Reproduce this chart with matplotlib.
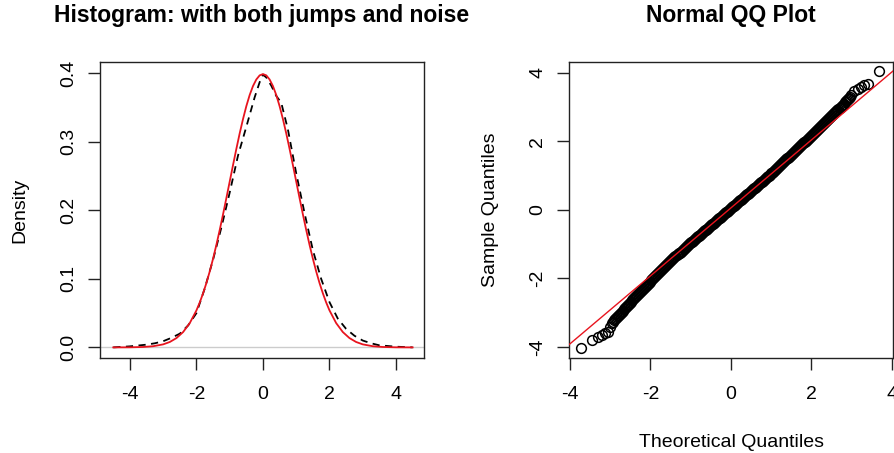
import matplotlib
matplotlib.use("Agg")
import matplotlib.pyplot as plt

plt.rcParams['font.family'] = ['Liberation Sans', 'DejaVu Sans']
plt.rcParams['axes.unicode_minus'] = False

# left panel: kernel density (dashed) and fitted normal (red)
dens_x = [-4.5, -4.0, -3.5, -3.25, -3.0, -2.75, -2.5, -2.25, -2.0, -1.75,
          -1.5, -1.25, -1.0, -0.75, -0.5, -0.25, -0.1, 0.0, 0.1, 0.25,
          0.4, 0.55, 0.75, 1.0, 1.25, 1.5, 1.75, 2.0, 2.25, 2.5,
          2.75, 3.0, 3.25, 3.5, 4.0, 4.5]
dens_y = [0.000, 0.0015, 0.004, 0.006, 0.009, 0.014, 0.020, 0.032, 0.050, 0.086,
          0.128, 0.175, 0.226, 0.280, 0.322, 0.365, 0.387, 0.398, 0.394, 0.382,
          0.367, 0.357, 0.318, 0.254, 0.196, 0.142, 0.100, 0.066, 0.042, 0.027,
          0.017, 0.010, 0.006, 0.003, 0.001, 0.000]

norm_x = [-4.5, -4.0, -3.6, -3.3, -3.0, -2.8, -2.6, -2.4, -2.2, -2.0,
          -1.9, -1.8, -1.7, -1.6, -1.5, -1.4, -1.3, -1.2, -1.1, -1.0,
          -0.9, -0.8, -0.7, -0.6, -0.5, -0.4, -0.3, -0.2, -0.1, 0.0,
          0.1, 0.2, 0.3, 0.4, 0.5, 0.6, 0.7, 0.8, 0.9, 1.0,
          1.1, 1.2, 1.3, 1.4, 1.5, 1.6, 1.7, 1.8, 1.9, 2.0,
          2.2, 2.4, 2.6, 2.8, 3.0, 3.3, 3.6, 4.0, 4.5]
norm_y = [0.0000, 0.0001, 0.0006, 0.0017, 0.0044, 0.0079, 0.0136, 0.0224, 0.0355, 0.0540,
          0.0656, 0.0790, 0.0940, 0.1109, 0.1295, 0.1497, 0.1714, 0.1942, 0.2179, 0.2420,
          0.2661, 0.2897, 0.3123, 0.3332, 0.3521, 0.3683, 0.3814, 0.3910, 0.3970, 0.3989,
          0.3970, 0.3910, 0.3814, 0.3683, 0.3521, 0.3332, 0.3123, 0.2897, 0.2661, 0.2420,
          0.2179, 0.1942, 0.1714, 0.1497, 0.1295, 0.1109, 0.0940, 0.0790, 0.0656, 0.0540,
          0.0355, 0.0224, 0.0136, 0.0079, 0.0044, 0.0017, 0.0006, 0.0001, 0.0000]

# right panel: normal QQ plot (tails + dense middle band)
qq_theory = [-3.72, -3.45, -3.29, -3.20, -3.12, -3.05, -3.00,
             -2.950, -2.925, -2.900, -2.875, -2.850, -2.825, -2.800, -2.775,
             -2.750, -2.725, -2.700, -2.675, -2.650, -2.625, -2.600, -2.575,
             -2.550, -2.525, -2.500, -2.475, -2.450, -2.425, -2.400, -2.375,
             -2.350, -2.325, -2.300, -2.275, -2.250, -2.225, -2.200, -2.175,
             -2.150, -2.125, -2.100, -2.075, -2.050, -2.025, -2.000, -1.975,
             -1.950, -1.925, -1.900, -1.875, -1.850, -1.825, -1.800, -1.775,
             -1.750, -1.725, -1.700, -1.675, -1.650, -1.625, -1.600, -1.575,
             -1.550, -1.525, -1.500, -1.475, -1.450, -1.425, -1.400, -1.375,
             -1.350, -1.325, -1.300, -1.275, -1.250, -1.225, -1.200, -1.175,
             -1.150, -1.125, -1.100, -1.075, -1.050, -1.025, -1.000, -0.975,
             -0.950, -0.925, -0.900, -0.875, -0.850, -0.825, -0.800, -0.775,
             -0.750, -0.725, -0.700, -0.675, -0.650, -0.625, -0.600, -0.575,
             -0.550, -0.525, -0.500, -0.475, -0.450, -0.425, -0.400, -0.375,
             -0.350, -0.325, -0.300, -0.275, -0.250, -0.225, -0.200, -0.175,
             -0.150, -0.125, -0.100, -0.075, -0.050, -0.025, 0.000, 0.025,
             0.050, 0.075, 0.100, 0.125, 0.150, 0.175, 0.200, 0.225,
             0.250, 0.275, 0.300, 0.325, 0.350, 0.375, 0.400, 0.425,
             0.450, 0.475, 0.500, 0.525, 0.550, 0.575, 0.600, 0.625,
             0.650, 0.675, 0.700, 0.725, 0.750, 0.775, 0.800, 0.825,
             0.850, 0.875, 0.900, 0.925, 0.950, 0.975, 1.000, 1.025,
             1.050, 1.075, 1.100, 1.125, 1.150, 1.175, 1.200, 1.225,
             1.250, 1.275, 1.300, 1.325, 1.350, 1.375, 1.400, 1.425,
             1.450, 1.475, 1.500, 1.525, 1.550, 1.575, 1.600, 1.625,
             1.650, 1.675, 1.700, 1.725, 1.750, 1.775, 1.800, 1.825,
             1.850, 1.875, 1.900, 1.925, 1.950, 1.975, 2.000, 2.025,
             2.050, 2.075, 2.100, 2.125, 2.150, 2.175, 2.200, 2.225,
             2.250, 2.275, 2.300, 2.325, 2.350, 2.375, 2.400, 2.425,
             2.450, 2.475, 2.500, 2.525, 2.550, 2.575, 2.600, 2.625,
             2.650, 2.675, 2.700, 2.725, 2.750, 2.775, 2.800, 2.825,
             2.850, 2.875, 2.900, 2.925, 2.950,
             2.99, 3.07, 3.15, 3.24, 3.32, 3.40, 3.69]
qq_sample = [-4.02, -3.80, -3.72, -3.66, -3.60, -3.55, -3.42,
             -3.300, -3.260, -3.220, -3.190, -3.160, -3.130, -3.100, -3.070,
             -3.040, -3.005, -2.970, -2.935, -2.900, -2.870, -2.840, -2.805,
             -2.770, -2.740, -2.710, -2.675, -2.640, -2.610, -2.580, -2.550,
             -2.520, -2.490, -2.460, -2.430, -2.400, -2.365, -2.330, -2.300,
             -2.270, -2.240, -2.210, -2.180, -2.150, -2.120, -2.090, -2.060,
             -2.030, -2.000, -1.970, -1.940, -1.910, -1.880, -1.850, -1.820,
             -1.790, -1.760, -1.730, -1.700, -1.670, -1.640, -1.610, -1.580,
             -1.550, -1.525, -1.500, -1.470, -1.440, -1.410, -1.380, -1.355,
             -1.330, -1.300, -1.270, -1.245, -1.220, -1.190, -1.160, -1.135,
             -1.110, -1.085, -1.060, -1.030, -1.000, -0.975, -0.950, -0.925,
             -0.900, -0.875, -0.850, -0.825, -0.800, -0.775, -0.750, -0.725,
             -0.700, -0.675, -0.650, -0.625, -0.600, -0.575, -0.550, -0.525,
             -0.500, -0.475, -0.450, -0.425, -0.400, -0.375, -0.350, -0.325,
             -0.300, -0.275, -0.250, -0.225, -0.200, -0.175, -0.150, -0.125,
             -0.100, -0.075, -0.050, -0.025, 0.000, 0.025, 0.050, 0.075,
             0.100, 0.125, 0.150, 0.175, 0.200, 0.225, 0.250, 0.275,
             0.300, 0.325, 0.350, 0.375, 0.400, 0.425, 0.450, 0.475,
             0.500, 0.525, 0.550, 0.575, 0.600, 0.625, 0.650, 0.675,
             0.700, 0.725, 0.750, 0.775, 0.800, 0.825, 0.850, 0.875,
             0.900, 0.925, 0.950, 0.975, 1.000, 1.025, 1.060, 1.085,
             1.110, 1.140, 1.170, 1.195, 1.220, 1.250, 1.280, 1.305,
             1.330, 1.360, 1.390, 1.415, 1.440, 1.470, 1.500, 1.525,
             1.550, 1.580, 1.610, 1.635, 1.660, 1.690, 1.720, 1.745,
             1.770, 1.800, 1.830, 1.855, 1.880, 1.910, 1.940, 1.965,
             1.990, 2.020, 2.050, 2.075, 2.100, 2.130, 2.160, 2.185,
             2.210, 2.240, 2.270, 2.300, 2.330, 2.355, 2.380, 2.410,
             2.440, 2.470, 2.500, 2.530, 2.560, 2.590, 2.620, 2.645,
             2.670, 2.700, 2.730, 2.760, 2.790, 2.820, 2.850, 2.880,
             2.910, 2.945, 2.980, 3.010, 3.040, 3.070, 3.100, 3.135,
             3.170, 3.205, 3.240, 3.270, 3.300,
             3.36, 3.46, 3.52, 3.58, 3.63, 3.67, 4.04]
qq_intercept = 0.054
qq_slope = 0.991

fig = plt.figure(figsize=(8.95, 4.53), dpi=100)
ax1 = fig.add_axes([0.1117, 0.2097, 0.362, 0.6534])
ax2 = fig.add_axes([0.6358, 0.2097, 0.362, 0.6534])

# left
ax1.axhline(0, color='#cccccc', lw=1.0, zorder=1)
ax1.plot(dens_x, dens_y, color='black', lw=1.3, linestyle=(0, (4, 3)), zorder=2)
ax1.plot(norm_x, norm_y, color='#e8141e', lw=1.3, zorder=3)
ax1.set_xlim(-4.9, 4.84)
ax1.set_ylim(-0.0155, 0.4165)
ax1.set_xticks([-4, -2, 0, 2, 4])
ax1.set_yticks([0.0, 0.1, 0.2, 0.3, 0.4])
ax1.set_yticklabels(['0.0', '0.1', '0.2', '0.3', '0.4'])
ax1.set_ylabel('Density', fontsize=14, labelpad=23)
ax1.set_title('Histogram: with both jumps and noise', fontsize=16.5,
              fontweight='bold', pad=29)

# right
ax2.plot(qq_theory, qq_sample, linestyle='none', marker='o', markersize=7,
         markerfacecolor='none', markeredgecolor='black', markeredgewidth=1.1,
         zorder=2)
ax2.axline((0, qq_intercept), slope=qq_slope, color='#e8141e', lw=1.0, zorder=3)
ax2.set_xlim(-4.02, 4.03)
ax2.set_ylim(-4.32, 4.31)
ax2.set_xticks([-4, -2, 0, 2, 4])
ax2.set_yticks([-4, -2, 0, 2, 4])
ax2.set_xlabel('Theoretical Quantiles', fontsize=14, labelpad=22)
ax2.set_ylabel('Sample Quantiles', fontsize=14, labelpad=22)
ax2.set_title('Normal QQ Plot', fontsize=16.5, fontweight='bold', pad=29)

for ax in (ax1, ax2):
    for s in ax.spines.values():
        s.set_linewidth(1.0)
        s.set_color('#222222')
    ax.tick_params(axis='both', length=8.5, width=1.0, labelsize=14,
                   color='#222222')
    ax.tick_params(axis='x', pad=12)
    ax.tick_params(axis='y', pad=8)
    for lab in ax.get_yticklabels():
        lab.set_rotation(90)
        lab.set_va('center')

fig.savefig('out.png', dpi=100)
